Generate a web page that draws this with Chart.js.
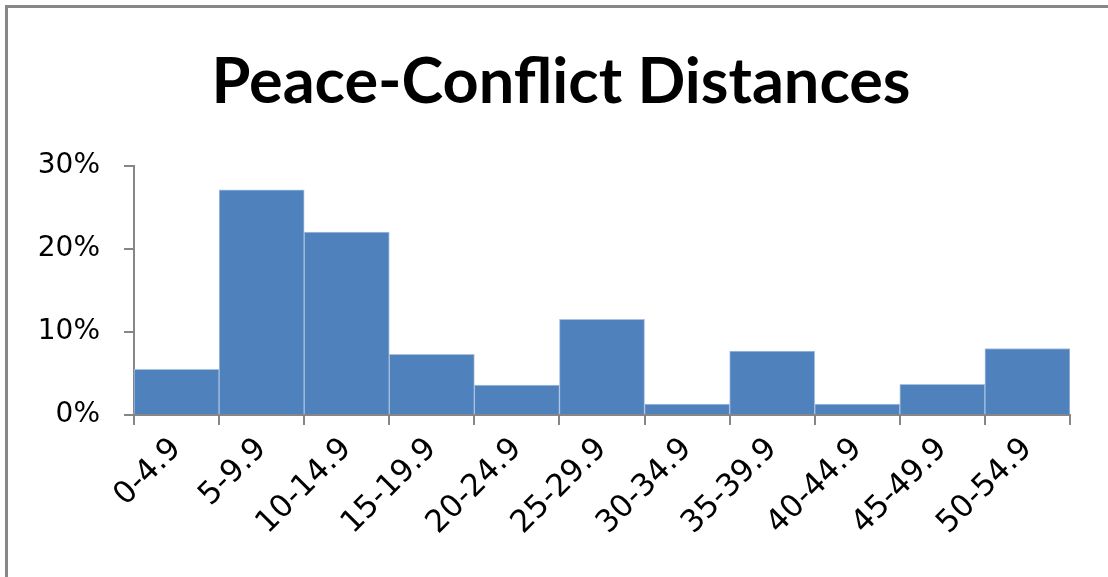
<!DOCTYPE html>
<html>
<head>
<meta charset="utf-8">
<script src="https://cdn.jsdelivr.net/npm/chart.js@4"></script>
<style>
    html, body { margin: 0; padding: 0; background: #fff; overflow: hidden; }
    #wrap { position: relative; width: 1108px; height: 577px; overflow: hidden; }
    .edge { position: absolute; background: #878787; }
    #edgeTop { left: 5px; top: 5px; width: 1103px; height: 3px; }
    #edgeLeft { left: 5px; top: 5px; width: 3px; height: 572px; }
    canvas { position: absolute; left: 0; top: 0; }
</style>
</head>
<body>
<div id="wrap">
    <div class="edge" id="edgeTop"></div>
    <div class="edge" id="edgeLeft"></div>
    <canvas id="histChart" width="1108" height="577"></canvas>
</div>
<script>
// Distance bins and share of cases (fraction)
const bins = ['0-4.9', '5-9.9', '10-14.9', '15-19.9', '20-24.9', '25-29.9',
    '30-34.9', '35-39.9', '40-44.9', '45-49.9', '50-54.9'];
const shares = [0.055, 0.271, 0.220, 0.073, 0.036, 0.115, 0.013, 0.077, 0.013, 0.037, 0.080];
const yTicks = [0, 0.1, 0.2, 0.3];

const axisGray = '#868686';

// nudge the title a bit right, the original is centred on the page not the plot
const titleShift = {
    id: 'titleShift',
    afterLayout(chart) {
        const t = chart.titleBlock;
        if (t) { t.left += 26; t.right += 26; }
    }
};

new Chart(document.getElementById('histChart'), {
    type: 'bar',
    data: {
        labels: bins,
        datasets: [{
            data: shares,
            backgroundColor: '#4F81BD',
            borderColor: '#A9C1E0',
            borderWidth: 1,
            categoryPercentage: 1.0,
            barPercentage: 1.0
        }]
    },
    plugins: [titleShift],
    options: {
        responsive: false,
        animation: false,
        layout: { padding: { left: 0, right: 38, top: 0, bottom: 0 } },
        plugins: {
            legend: { display: false },
            tooltip: { enabled: false },
            title: {
                display: true,
                text: 'Peace-Conflict Distances',
                color: '#000',
                font: { family: 'Lato', size: 63, weight: 'bold', lineHeight: 1.2 },
                padding: { top: 45, bottom: 45 }
            }
        },
        scales: {
            x: {
                grid: { drawOnChartArea: false, drawTicks: true, tickLength: 10, color: axisGray, lineWidth: 2, offset: true },
                border: { color: axisGray, width: 2 },
                ticks: {
                    color: '#000',
                    font: { family: 'DejaVu Sans', size: 31 },
                    minRotation: 45,
                    maxRotation: 45,
                    padding: 6
                },
                afterFit: scale => { scale.height = 162; }
            },
            y: {
                min: 0,
                max: 0.3,
                afterBuildTicks: scale => { scale.ticks = yTicks.map(v => ({ value: v })); },
                grid: { drawOnChartArea: false, drawTicks: true, tickLength: 10, color: axisGray, lineWidth: 2 },
                border: { color: axisGray, width: 2 },
                ticks: {
                    color: '#000',
                    font: { family: 'DejaVu Sans', size: 28 },
                    padding: 24,
                    callback: v => Math.round(v * 100) + '%'
                },
                afterFit: scale => { scale.width = 134; }
            }
        }
    }
});
</script>
</body>
</html>
